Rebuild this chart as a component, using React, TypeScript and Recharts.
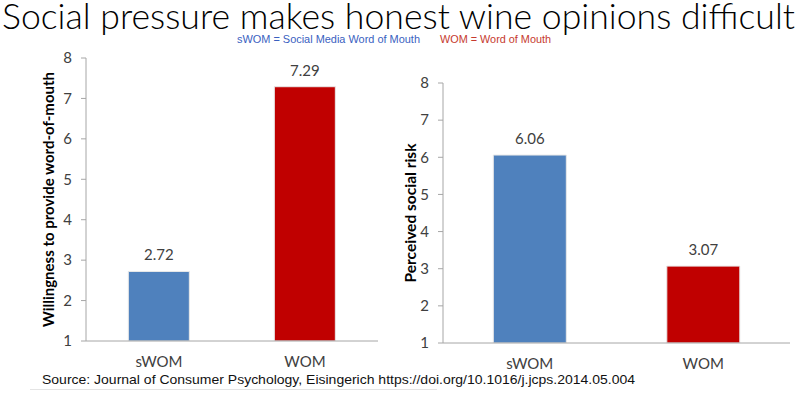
import React from 'react';
import {
  BarChart,
  Bar,
  XAxis,
  YAxis,
  Cell,
  LabelList,
  Label,
} from 'recharts';

const categories = ['sWOM', 'WOM'];
const willingness = [2.72, 7.29];
const socialRisk = [6.06, 3.07];
const yTicks = [1, 2, 3, 4, 5, 6, 7, 8];
const barColors = ['#4F81BD', '#C00000'];

const title = 'Social pressure makes honest wine opinions difficult';
const noteBlue = 'sWOM = Social Media Word of Mouth';
const noteRed = 'WOM = Word of Mouth';
const source =
  'Source: Journal of Consumer Psychology, Eisingerich https://doi.org/10.1016/j.jcps.2014.05.004';

const FONT = 'Lato, "Open Sans", sans-serif';
const AXIS_GREY = '#A6A6A6';

const makeRows = (values: number[]) =>
  categories.map((name, i) => ({ name, value: values[i], edge: i }));

interface PanelProps {
  values: number[];
  yLabel: string;
  labelLength: number;
  left: number;
  width: number;
  yAxisWidth: number;
  labelX: number;
  margin: { top: number; right: number; bottom: number; left: number };
}

const Panel: React.FC<PanelProps> = ({
  values,
  yLabel,
  labelLength,
  left,
  width,
  yAxisWidth,
  labelX,
  margin,
}) => {
  const rows = makeRows(values);
  return (
    <div style={{ position: 'absolute', left, top: 0 }}>
      <BarChart
        width={width}
        height={397}
        data={rows}
        margin={margin}
        barCategoryGap="29%"
      >
        {/* boundary ticks between categories, like the Excel axis */}
        <XAxis
          xAxisId="edges"
          type="number"
          dataKey="edge"
          domain={[0, 2]}
          ticks={[0, 1, 2]}
          height={0}
          axisLine={false}
          tick={() => <g />}
          tickSize={5}
          tickLine={{ stroke: AXIS_GREY }}
        />
        <XAxis
          dataKey="name"
          axisLine={{ stroke: AXIS_GREY }}
          tickLine={false}
          height={30}
          tickMargin={9}
          tick={{ fill: '#404040', fontSize: 15, fontFamily: FONT }}
        />
        <YAxis
          domain={[1, 8]}
          ticks={yTicks}
          width={yAxisWidth}
          axisLine={{ stroke: AXIS_GREY }}
          tickLine={{ stroke: AXIS_GREY }}
          tickSize={5}
          tickMargin={9}
          tick={{ fill: '#404040', fontSize: 15, fontFamily: FONT }}
          allowDataOverflow
        >
          <Label
            content={(props: any) => {
              const vb = props.viewBox || {};
              const cx = (vb.x || 0) + labelX;
              const cy = (vb.y || 0) + (vb.height || 0) / 2;
              return (
                <text
                  x={cx}
                  y={cy}
                  transform={`rotate(-90 ${cx} ${cy})`}
                  textAnchor="middle"
                  dominantBaseline="central"
                  fontFamily={FONT}
                  fontWeight={700}
                  fontSize={15}
                  fill="#000"
                  textLength={labelLength}
                  lengthAdjust="spacingAndGlyphs"
                >
                  {yLabel}
                </text>
              );
            }}
          />
        </YAxis>
        <Bar dataKey="value" isAnimationActive={false} stroke="#E8E8E8" strokeWidth={1}>
          {rows.map((r, i) => (
            <Cell key={r.name} fill={barColors[i]} />
          ))}
          <LabelList
            dataKey="value"
            position="top"
            offset={11}
            formatter={(v: any) => Number(v).toFixed(2)}
            style={{ fill: '#404040', fontSize: 15, fontFamily: FONT }}
          />
        </Bar>
      </BarChart>
    </div>
  );
};

export default function App() {
  return (
    <div
      style={{
        position: 'absolute',
        left: 0,
        top: 0,
        width: 800,
        height: 397,
        background: '#fff',
        overflow: 'hidden',
      }}
    >
      <svg
        width={800}
        height={397}
        style={{ position: 'absolute', left: 0, top: 0 }}
      >
        <text
          x={2}
          y={29}
          fontFamily={FONT}
          fontWeight={300}
          fontSize={35}
          fill="#000"
          textLength={793}
          lengthAdjust="spacingAndGlyphs"
        >
          {title}
        </text>
        <text
          x={237}
          y={43}
          fontFamily='"Liberation Sans", Arial, sans-serif'
          fontSize={11}
          fill="#3A5FBF"
          textLength={183}
          lengthAdjust="spacingAndGlyphs"
        >
          {noteBlue}
        </text>
        <text
          x={440}
          y={43}
          fontFamily='"Liberation Sans", Arial, sans-serif'
          fontSize={11}
          fill="#C63A2E"
          textLength={111}
          lengthAdjust="spacingAndGlyphs"
        >
          {noteRed}
        </text>
        <text
          x={42}
          y={384}
          fontFamily='"Liberation Sans", Arial, sans-serif'
          fontSize={13}
          fill="#111"
          textLength={593}
          lengthAdjust="spacingAndGlyphs"
        >
          {source}
        </text>
        <line x1={30} y1={389.5} x2={437} y2={389.5} stroke="#E4E4E4" />
      </svg>
      <Panel
        values={willingness}
        yLabel="Willingness to provide word-of-mouth"
        labelLength={255}
        left={0}
        width={400}
        yAxisWidth={86}
        labelX={48}
        margin={{ top: 58, right: 22, bottom: 26, left: 0 }}
      />
      <Panel
        values={socialRisk}
        yLabel="Perceived social risk"
        labelLength={139}
        left={400}
        width={400}
        yAxisWidth={43}
        labelX={10}
        margin={{ top: 83, right: 10, bottom: 24, left: 0 }}
      />
    </div>
  );
}
